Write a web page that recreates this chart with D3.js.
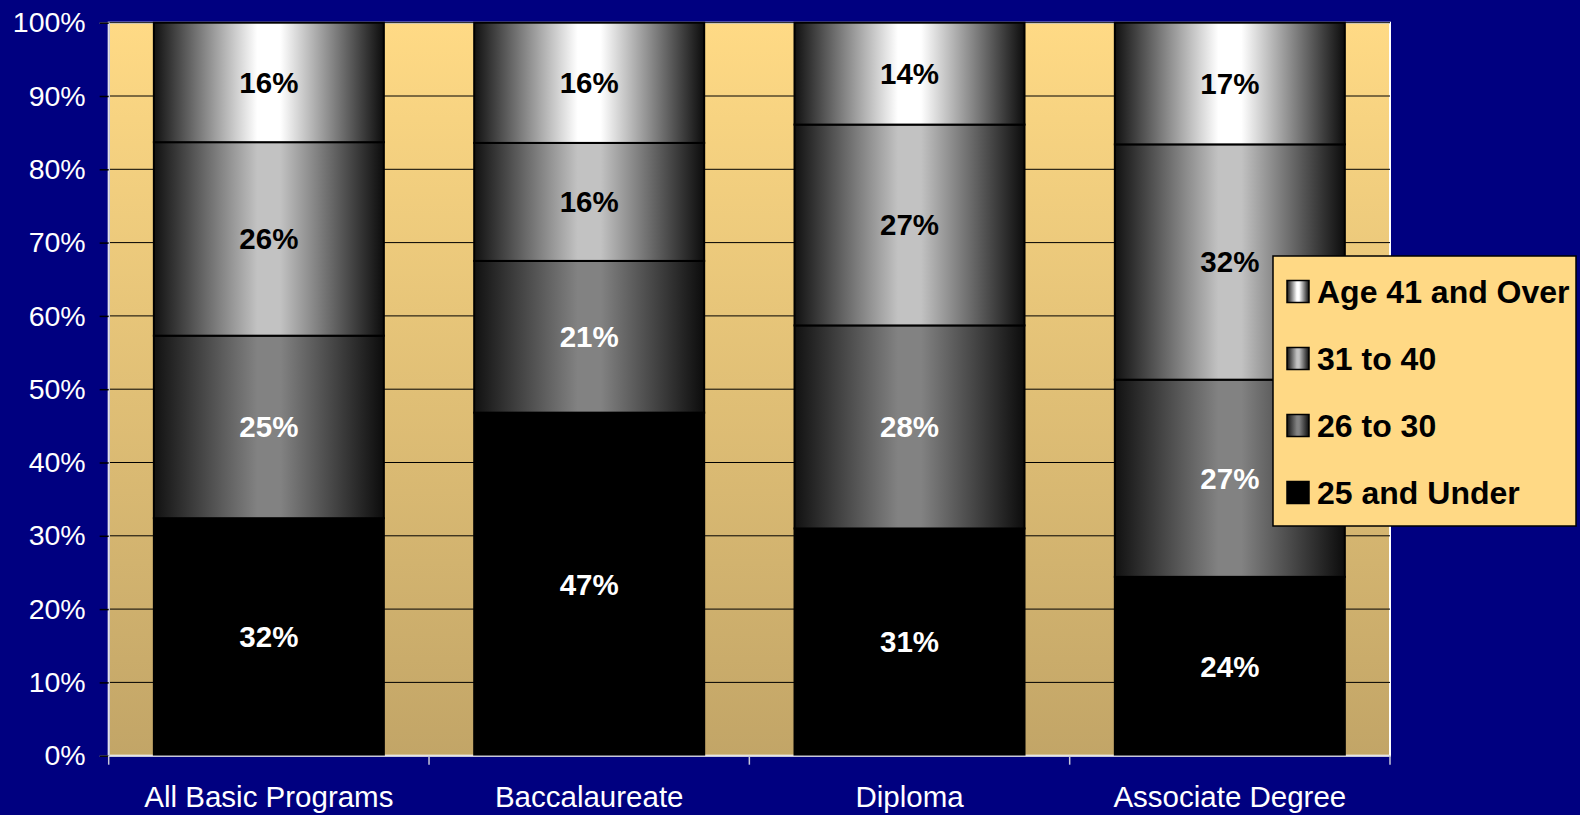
<!DOCTYPE html>
<html>
<head>
<meta charset="utf-8">
<script src="https://cdn.jsdelivr.net/npm/d3@7"></script>
<style>
  html, body { margin: 0; padding: 0; background: #000080; }
  svg { display: block; }
</style>
</head>
<body>
<div id="wrapper"></div>
<script>
const categories = ["All Basic Programs", "Baccalaureate", "Diploma", "Associate Degree"]
const seriesNames = ["25 and Under", "26 to 30", "31 to 40", "Age 41 and Over"]
const under25 = [32.4, 46.8, 31.0, 24.4]
const age26to30 = [24.9, 20.7, 27.7, 26.9]
const age31to40 = [26.4, 16.1, 27.4, 32.1]
const age41plus = [16.3, 16.4, 13.9, 16.6]
const yTicks = [0, 10, 20, 30, 40, 50, 60, 70, 80, 90, 100]

const seriesValues = [under25, age26to30, age31to40, age41plus]
const centerColors = ["#000000", "#828282", "#c2c2c2", "#ffffff"]
const labelColors = ["#ffffff", "#ffffff", "#000000", "#000000"]

const table = categories.map((c, i) => {
  const row = { category: c }
  seriesNames.forEach((s, j) => row[s] = seriesValues[j][i])
  return row
})

const dimensions = {
  width: 1580,
  height: 815,
  plot: { left: 108.7, right: 1390, top: 22.7, bottom: 755.7 }
}

const svg = d3.select("#wrapper")
  .append("svg")
    .attr("width", dimensions.width)
    .attr("height", dimensions.height)
    .style("font-family", "Arial, 'Liberation Sans', sans-serif")

const defs = svg.append("defs")

// plot background gradient
const bg = defs.append("linearGradient")
    .attr("id", "plotBg")
    .attr("x1", 0).attr("y1", 0).attr("x2", 0).attr("y2", 1)
bg.append("stop").attr("offset", "0%").attr("stop-color", "#ffda85")
bg.append("stop").attr("offset", "100%").attr("stop-color", "#c2a567")

// bar gradients, dark at the edges and lighter in the middle
seriesNames.forEach((s, j) => {
  const g = defs.append("linearGradient")
      .attr("id", "seg" + j)
      .attr("x1", 0).attr("y1", 0).attr("x2", 1).attr("y2", 0)
  if (j === 0) {
    g.append("stop").attr("offset", "0%").attr("stop-color", "#000")
    g.append("stop").attr("offset", "100%").attr("stop-color", "#000")
  } else {
    g.append("stop").attr("offset", "0%").attr("stop-color", "#111")
    g.append("stop").attr("offset", "45%").attr("stop-color", centerColors[j])
    g.append("stop").attr("offset", "55%").attr("stop-color", centerColors[j])
    g.append("stop").attr("offset", "100%").attr("stop-color", "#0c0c0c")
  }
})

const xScale = d3.scaleBand()
  .domain(categories)
  .range([dimensions.plot.left, dimensions.plot.right])
  .paddingInner(0.282)
  .paddingOuter(0.141)

const yScale = d3.scaleLinear()
  .domain([0, 100])
  .range([dimensions.plot.bottom, dimensions.plot.top])

// plot area
svg.append("rect")
    .attr("x", dimensions.plot.left)
    .attr("y", dimensions.plot.top)
    .attr("width", dimensions.plot.right - dimensions.plot.left)
    .attr("height", dimensions.plot.bottom - dimensions.plot.top)
    .attr("fill", "url(#plotBg)")
    .attr("stroke", "#ffffff")
    .attr("stroke-width", 2)

// gridlines
svg.append("g")
  .selectAll("line")
  .data(yTicks.filter(d => d > 0))
  .join("line")
    .attr("x1", dimensions.plot.left)
    .attr("x2", dimensions.plot.right)
    .attr("y1", d => yScale(d))
    .attr("y2", d => yScale(d))
    .attr("stroke", "#000")
    .attr("stroke-width", 1)

// stacked bars
const stacked = d3.stack().keys(seriesNames)(table)

const layers = svg.append("g")
  .selectAll("g")
  .data(stacked)
  .join("g")

layers.selectAll("rect")
  .data(d => d.map(v => ({ v, key: d.key, idx: d.index })))
  .join("rect")
    .attr("x", d => xScale(d.v.data.category))
    .attr("width", xScale.bandwidth())
    .attr("y", d => yScale(d.v[1]))
    .attr("height", d => yScale(d.v[0]) - yScale(d.v[1]))
    .attr("fill", d => "url(#seg" + d.idx + ")")
    .attr("stroke", "#000")
    .attr("stroke-width", 2)

layers.selectAll("text")
  .data(d => d.map(v => ({ v, key: d.key, idx: d.index })))
  .join("text")
    .attr("x", d => xScale(d.v.data.category) + xScale.bandwidth() / 2)
    .attr("y", d => yScale((d.v[0] + d.v[1]) / 2))
    .attr("dy", "0.35em")
    .attr("text-anchor", "middle")
    .attr("fill", d => labelColors[d.idx])
    .style("font-size", "29.5px")
    .style("font-weight", "bold")
    .text(d => Math.round(d.v[1] - d.v[0]) + "%")

// y axis
const yAxis = svg.append("g")
    .attr("transform", `translate(${dimensions.plot.left},0)`)
    .call(d3.axisLeft(yScale).tickValues(yTicks).tickFormat(d => d + "%").tickSize(9).tickPadding(14))
yAxis.select(".domain").attr("stroke", "#c8c8d8").attr("stroke-width", 1.5)
yAxis.selectAll(".tick line").attr("stroke", "#000").attr("stroke-width", 1.5)
yAxis.selectAll(".tick text")
    .attr("fill", "#fff")
    .style("font-size", "28.5px")
    .style("font-family", "Arial, 'Liberation Sans', sans-serif")

// x axis: ticks on category boundaries
const xAxis = svg.append("g")
    .attr("transform", `translate(0,${dimensions.plot.bottom})`)
    .call(d3.axisBottom(xScale).tickSize(0).tickPadding(30))
xAxis.select(".domain").attr("stroke", "#c8c8d8").attr("stroke-width", 1.5)
xAxis.selectAll(".tick text")
    .attr("fill", "#fff")
    .style("font-size", "29.5px")
    .style("font-family", "Arial, 'Liberation Sans', sans-serif")

const step = xScale.step()
xAxis.append("g")
  .selectAll("line")
  .data(d3.range(categories.length + 1))
  .join("line")
    .attr("x1", i => dimensions.plot.left + i * step)
    .attr("x2", i => dimensions.plot.left + i * step)
    .attr("y1", 0)
    .attr("y2", 9)
    .attr("stroke", "#c8c8d8")
    .attr("stroke-width", 1.5)

// legend
const legend = svg.append("g")
    .attr("transform", "translate(1273,256)")

legend.append("rect")
    .attr("width", 303)
    .attr("height", 270)
    .attr("fill", "#ffd985")
    .attr("stroke", "#000")
    .attr("stroke-width", 1.5)

const legendOrder = seriesNames.map((s, j) => j).reverse()

const items = legend.selectAll("g")
  .data(legendOrder)
  .join("g")
    .attr("transform", (j, i) => `translate(14,${35.5 + i * 67})`)

items.append("rect")
    .attr("x", 0)
    .attr("y", -11)
    .attr("width", 22)
    .attr("height", 22)
    .attr("fill", j => "url(#seg" + j + ")")
    .attr("stroke", "#000")
    .attr("stroke-width", 1.5)

items.append("text")
    .attr("x", 30)
    .attr("dy", "0.36em")
    .attr("fill", "#000")
    .style("font-size", "32px")
    .style("font-weight", "bold")
    .text(j => seriesNames[j])
</script>
</body>
</html>
